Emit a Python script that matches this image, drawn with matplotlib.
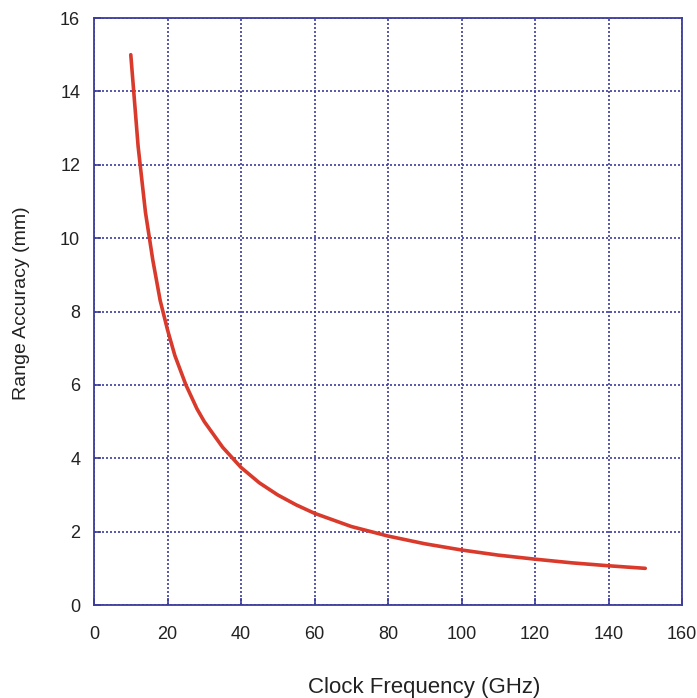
import matplotlib
matplotlib.use('Agg')
import matplotlib.pyplot as plt

# values
freq_ghz = [10, 12, 14, 16, 18, 20, 22, 25, 28, 30, 35, 40, 45, 50, 55, 60,
            70, 80, 90, 100, 110, 120, 130, 140, 150]
accuracy_mm = [15.0, 12.5, 10.7, 9.4, 8.3, 7.5, 6.8, 6.0, 5.35, 5.0, 4.3, 3.75,
               3.33, 3.0, 2.73, 2.5, 2.14, 1.88, 1.67, 1.5, 1.36, 1.25, 1.15,
               1.07, 1.0]
x_ticks = [0, 20, 40, 60, 80, 100, 120, 140, 160]
y_ticks = [0, 2, 4, 6, 8, 10, 12, 14, 16]

navy = '#3c3c9c'
plt.rcParams['font.family'] = ['Liberation Sans', 'DejaVu Sans']

fig = plt.figure(figsize=(6.97, 6.98), dpi=100)
ax = fig.add_axes([0.1349, 0.1332, 0.8436, 0.8410])

ax.plot(freq_ghz, accuracy_mm, color='#d93a2b', linewidth=2.6, solid_capstyle='round')

ax.set_xlim(0, 160)
ax.set_ylim(0, 16)
ax.set_xticks(x_ticks)
ax.set_yticks(y_ticks)
ax.grid(True, color=navy, linestyle=(0, (1.2, 1.2)), linewidth=1.2)
ax.tick_params(direction='in', length=5, width=1.2, color=navy,
               labelsize=13, labelcolor='#222222')
ax.tick_params(axis='x', pad=15)
ax.tick_params(axis='y', pad=10)
for sp in ax.spines.values():
    sp.set_color(navy)
    sp.set_linewidth(1.3)

# axis titles placed where they sit in the picture
fig.text(424 / 697, 1 - 687 / 698, 'Clock Frequency (GHz)', fontsize=16,
         ha='center', va='center', color='#222222')
fig.text(22 / 697, 1 - 303 / 698, 'Range Accuracy (mm)', fontsize=14,
         ha='center', va='center', rotation=90, color='#222222')

fig.savefig('out.png', dpi=100)
